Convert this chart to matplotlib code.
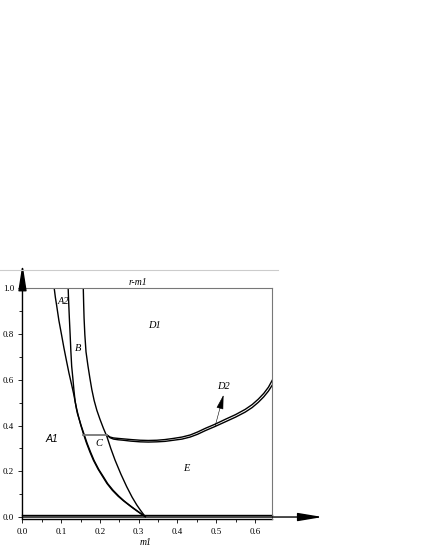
import matplotlib
matplotlib.use("Agg")
import matplotlib.pyplot as plt
from matplotlib.lines import Line2D
from matplotlib.ticker import MultipleLocator

# boundary curves (m1, r)
curve_a_m = [0.082, 0.085, 0.088, 0.094, 0.101, 0.107, 0.114, 0.120, 0.127, 0.132, 0.136,
             0.140, 0.145, 0.150, 0.157, 0.165, 0.174, 0.183, 0.195, 0.207, 0.218, 0.232,
             0.247, 0.260, 0.269, 0.282, 0.295, 0.307, 0.317]
curve_a_r = [1.000, 0.960, 0.928, 0.860, 0.796, 0.740, 0.680, 0.630, 0.578, 0.540, 0.505,
             0.472, 0.437, 0.405, 0.366, 0.325, 0.285, 0.249, 0.210, 0.177, 0.147, 0.117,
             0.091, 0.072, 0.060, 0.043, 0.027, 0.013, 0.002]

curve_b_m = [0.118, 0.119, 0.121, 0.123, 0.125, 0.127, 0.130, 0.133, 0.136, 0.139, 0.142,
             0.147, 0.152, 0.159, 0.167, 0.176, 0.185, 0.197, 0.209, 0.220, 0.234, 0.249,
             0.262, 0.271, 0.284, 0.297, 0.308, 0.317]
curve_b_r = [1.000, 0.950, 0.871, 0.800, 0.723, 0.660, 0.608, 0.552, 0.505, 0.476, 0.452,
             0.425, 0.397, 0.362, 0.322, 0.283, 0.247, 0.208, 0.176, 0.146, 0.117, 0.091,
             0.071, 0.059, 0.042, 0.026, 0.012, 0.002]

curve_c_m = [0.157, 0.158, 0.159, 0.161, 0.164, 0.169, 0.174, 0.179, 0.185, 0.192, 0.200,
             0.209, 0.218, 0.228, 0.239, 0.254, 0.269, 0.283, 0.295, 0.304, 0.311, 0.317]
curve_c_r = [1.000, 0.930, 0.871, 0.798, 0.723, 0.662, 0.608, 0.558, 0.510, 0.467, 0.428,
             0.388, 0.352, 0.300, 0.249, 0.188, 0.133, 0.087, 0.053, 0.031, 0.015, 0.002]

u_upper_m = [0.218, 0.226, 0.235, 0.247, 0.260, 0.280, 0.304, 0.325, 0.347, 0.368, 0.390,
             0.412, 0.433, 0.452, 0.472, 0.497, 0.523, 0.550, 0.575, 0.593, 0.609, 0.623,
             0.635, 0.646]
u_upper_r = [0.359, 0.350, 0.346, 0.344, 0.342, 0.339, 0.336, 0.335, 0.336, 0.339, 0.344,
             0.350, 0.359, 0.372, 0.388, 0.406, 0.427, 0.448, 0.471, 0.492, 0.516, 0.541,
             0.568, 0.602]

u_lower_m = [0.218, 0.226, 0.235, 0.247, 0.260, 0.280, 0.304, 0.325, 0.347, 0.368, 0.390,
             0.412, 0.433, 0.452, 0.472, 0.497, 0.523, 0.550, 0.575, 0.593, 0.609, 0.623,
             0.635, 0.646]
u_lower_r = [0.359, 0.347, 0.341, 0.338, 0.336, 0.332, 0.329, 0.328, 0.329, 0.331, 0.336,
             0.341, 0.350, 0.362, 0.378, 0.396, 0.416, 0.437, 0.459, 0.479, 0.502, 0.526,
             0.551, 0.580]

level_m = [0.157, 0.218]
level_r = [0.359, 0.359]

region_names = ["A2", "B", "D1", "C", "E", "D2"]
region_m = [0.105, 0.144, 0.340, 0.196, 0.424, 0.518]
region_r = [0.945, 0.738, 0.840, 0.323, 0.213, 0.573]

fig = plt.figure(figsize=(4.25, 5.5), dpi=100)
ax = fig.add_axes([0.0529, 0.0558, 0.5878, 0.4197])

serif = "Liberation Serif"

for xs, ys in [(curve_a_m, curve_a_r), (curve_b_m, curve_b_r), (curve_c_m, curve_c_r),
               (u_upper_m, u_upper_r), (u_lower_m, u_lower_r)]:
    ax.plot(xs, ys, color="black", lw=1.0, solid_joinstyle="round")
ax.plot(level_m, level_r, color="#777777", lw=1.3)

# double line along r = 0
ax.plot([0, 0.645], [0.008, 0.008], color="black", lw=1.0, clip_on=False)
ax.plot([0, 0.645], [-0.009, -0.009], color="black", lw=1.0, clip_on=False)

ax.set_xlim(0, 0.645)
ax.set_ylim(-0.01, 1.0)

# axes arrows
ax.annotate("", xy=(0.775, 0.0), xytext=(0.0, 0.0),
            arrowprops=dict(arrowstyle="-|>,head_length=1.5,head_width=0.25",
                            color="black", lw=1.0, mutation_scale=10,
                            shrinkA=0, shrinkB=0),
            annotation_clip=False)
ax.annotate("", xy=(0.0, 1.107), xytext=(0.0, -0.01),
            arrowprops=dict(arrowstyle="-|>,head_length=1.6,head_width=0.25",
                            color="black", lw=1.0, mutation_scale=10,
                            shrinkA=0, shrinkB=0),
            annotation_clip=False)

# D2 pointer
ax.annotate("", xy=(0.519, 0.534), xytext=(0.497, 0.395),
            arrowprops=dict(arrowstyle="-|>,head_length=0.9,head_width=0.22",
                            color="black", lw=0.4, mutation_scale=10,
                            shrinkA=0, shrinkB=0))

for name, xm, yr in zip(region_names, region_m, region_r):
    ax.text(xm, yr, name, fontsize=7.5, family=serif, style="italic",
            ha="center", va="center")
ax.text(0.075, 0.340, "A1", fontsize=7.5, family="Liberation Sans", style="italic",
        ha="center", va="center")

ax.text(0.298, 1.024, "r-m1", fontsize=7, family=serif, style="italic",
        ha="center", va="center")
ax.text(0.317, -0.112, "m1", fontsize=7, family=serif, style="italic",
        ha="center", va="center", clip_on=False)

# light rule above the plot
fig.add_artist(Line2D([0, 278 / 425], [0.5091, 0.5091], color="#cccccc", lw=0.8))

ax.xaxis.set_major_locator(MultipleLocator(0.1))
ax.xaxis.set_minor_locator(MultipleLocator(0.05))
ax.yaxis.set_major_locator(MultipleLocator(0.2))
ax.yaxis.set_minor_locator(MultipleLocator(0.1))
ax.tick_params(which="major", length=3, width=0.6, labelsize=6.5, direction="out", pad=3)
ax.tick_params(which="minor", length=2, width=0.6, direction="out")
ax.set_xticks([0.0, 0.1, 0.2, 0.3, 0.4, 0.5, 0.6])
ax.set_xticklabels(["0.0", "0.1", "0.2", "0.3", "0.4", "0.5", "0.6"], family=serif)
ax.set_yticks([0.0, 0.2, 0.4, 0.6, 0.8, 1.0])
ax.set_yticklabels(["0.0", "0.2", "0.4", "0.6", "0.8", "1.0"], family=serif)

ax.spines["left"].set_visible(False)
ax.spines["bottom"].set_visible(False)
ax.spines["top"].set_color("#777777")
ax.spines["right"].set_color("#777777")
ax.spines["top"].set_linewidth(0.8)
ax.spines["right"].set_linewidth(0.8)

fig.savefig("out.png", dpi=100)
